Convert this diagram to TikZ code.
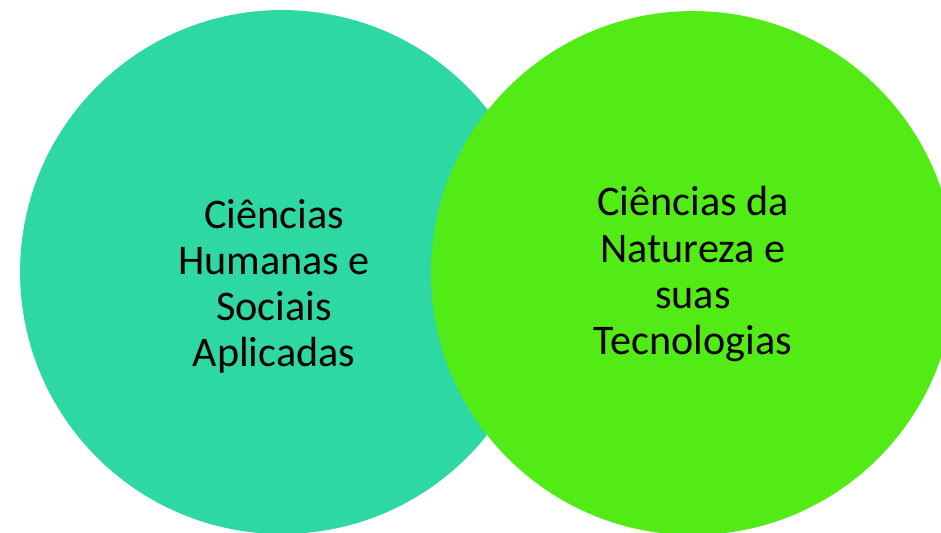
\documentclass[tikz,border=0pt]{standalone}
\usepackage{fontspec}
\setmainfont{Carlito}
\definecolor{humanas}{RGB}{46,216,163}
\definecolor{natureza}{RGB}{82,235,22}
\tikzset{
  area/.style={circle, minimum size=10.48cm, inner sep=0pt},
  rotulo/.style={align=center, font=\fontsize{24}{26.2}\selectfont}
}
\begin{document}
\begin{tikzpicture}[x=0.02cm, y=-0.02cm]
      \useasboundingbox (0,0) rectangle (941,532);
      \clip (0,0) rectangle (941,532);
      \node[area, fill=humanas] (humanas) at (282,272) {};
      \node[area, fill=natureza] (natureza) at (693,273) {};
      \node[rotulo] (txthumanas) at (274,286) {Ciências\\Humanas e\\Sociais\\Aplicadas};
      \node[rotulo] (txtnatureza) at (693,274) {Ciências da\\Natureza e\\suas\\Tecnologias};
    \end{tikzpicture}
\end{document}
